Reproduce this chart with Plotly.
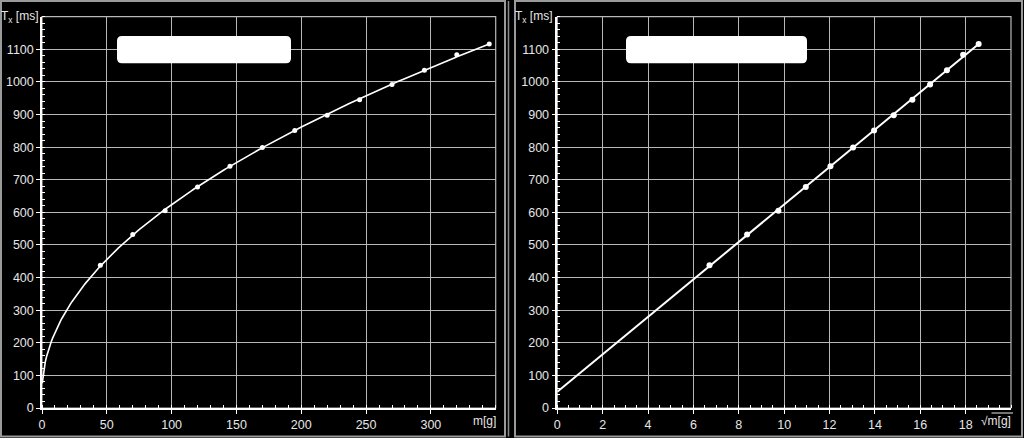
import numpy as np
import plotly.graph_objects as go

# ---- data ----
mass_g = [45, 70, 95, 120, 145, 170, 195, 220, 245, 270, 295, 320, 345]
tx_ms = [438, 532, 605, 678, 741, 799, 851, 898, 945, 992, 1036, 1083, 1116]
fit_intercept = 50.0   # ms
fit_slope = 57.4       # ms / sqrt(g)

x1_ticks = [0, 50, 100, 150, 200, 250, 300]
x2_ticks = [0, 2, 4, 6, 8, 10, 12, 14, 16, 18]
y_ticks = [0, 100, 200, 300, 400, 500, 600, 700, 800, 900, 1000, 1100]

W, H = 1024, 438
sqrt_m = np.sqrt(mass_g)
m_curve = np.linspace(0.2, max(mass_g), 300)
t_curve = fit_intercept + fit_slope * np.sqrt(m_curve)
s_line = np.array([0, sqrt_m.max()])
t_line = fit_intercept + fit_slope * s_line

FONT = "Liberation Sans, Arial, sans-serif"
TXT = "#e6e6e6"
GRID = "#b8b8b8"

fig = go.Figure()
fig.add_trace(go.Scatter(x=m_curve, y=t_curve, mode="lines",
                         line=dict(color="white", width=1.6), xaxis="x", yaxis="y",
                         hoverinfo="skip"))
fig.add_trace(go.Scatter(x=mass_g, y=tx_ms, mode="markers",
                         marker=dict(color="white", size=5), xaxis="x", yaxis="y"))
fig.add_trace(go.Scatter(x=s_line, y=t_line, mode="lines",
                         line=dict(color="white", width=2), xaxis="x2", yaxis="y2",
                         hoverinfo="skip"))
fig.add_trace(go.Scatter(x=sqrt_m, y=tx_ms, mode="markers",
                         marker=dict(color="white", size=6), xaxis="x2", yaxis="y2"))

def px_x(p):
    return p / W

def px_y(p):
    return 1 - p / H

ydom = [px_y(408), px_y(16.7)]
common_axis = dict(
    showline=True, linecolor="white", linewidth=1.5,
    showgrid=True, gridcolor=GRID, gridwidth=1,
    zeroline=False, ticks="outside", ticklen=4, tickcolor="white",
    tickfont=dict(family=FONT, size=12.5, color=TXT),
    automargin=False, fixedrange=True,
)
fig.update_layout(
    xaxis=dict(domain=[px_x(42), px_x(495.7)], range=[0, 350], anchor="y",
               tickvals=x1_ticks,
               minor=dict(dtick=10, tick0=0, ticks="inside", ticklen=3, tickcolor="white", showgrid=False),
               **common_axis),
    yaxis=dict(domain=ydom, range=[0, 1200], anchor="x", tickvals=y_ticks,
               minor=dict(dtick=20, tick0=0, ticks="inside", ticklen=3, tickcolor="white", showgrid=False),
               **common_axis),
    xaxis2=dict(domain=[px_x(557.3), px_x(1011)], range=[0, 20], anchor="y2",
                tickvals=x2_ticks,
                minor=dict(dtick=0.5, tick0=0, ticks="inside", ticklen=3, tickcolor="white", showgrid=False),
                **common_axis),
    yaxis2=dict(domain=ydom, range=[0, 1200], anchor="x2", tickvals=y_ticks,
                minor=dict(dtick=20, tick0=0, ticks="inside", ticklen=3, tickcolor="white", showgrid=False),
                **common_axis),
    width=W, height=H,
    margin=dict(l=0, r=0, t=0, b=0),
    paper_bgcolor="black", plot_bgcolor="black",
    showlegend=False,
)

shapes = []
# outer panel frames
for x0, x1 in [(1, 505), (515, 1022)]:
    shapes.append(dict(type="rect", xref="paper", yref="paper",
                       x0=px_x(x0), x1=px_x(x1), y0=px_y(436.5), y1=px_y(1),
                       line=dict(color="#9a9a9a", width=2), layer="below"))
shapes.append(dict(type="line", xref="paper", yref="paper",
                   x0=px_x(508.5), x1=px_x(508.5), y0=px_y(436.5), y1=px_y(1),
                   line=dict(color="#8a8a8a", width=1.5), layer="below"))
# plot-area borders (top/right in gray)
for ax in ["x", "x2"]:
    yax = "y" if ax == "x" else "y2"
    shapes.append(dict(type="rect", xref=f"{ax} domain", yref=f"{yax} domain",
                       x0=0, x1=1, y0=0, y1=1, line=dict(color=GRID, width=1.2), layer="below"))

# white rounded boxes
def rounded(x0, x1, y0, y1, r=5):
    X0, X1 = px_x(x0), px_x(x1)
    Y0, Y1 = px_y(y1), px_y(y0)  # bottom, top in paper
    rx, ry = r / W, r / H
    return (f"M{X0+rx},{Y0} L{X1-rx},{Y0} Q{X1},{Y0} {X1},{Y0+ry} "
            f"L{X1},{Y1-ry} Q{X1},{Y1} {X1-rx},{Y1} L{X0+rx},{Y1} "
            f"Q{X0},{Y1} {X0},{Y1-ry} L{X0},{Y0+ry} Q{X0},{Y0} {X0+rx},{Y0} Z")

for (bx0, bx1) in [(117, 291), (626, 807)]:
    shapes.append(dict(type="path", xref="paper", yref="paper",
                       path=rounded(bx0, bx1, 36, 63.3),
                       fillcolor="white", line=dict(color="white", width=0)))
# vinculum of the square-root sign in the right axis label
shapes.append(dict(type="line", xref="paper", yref="paper",
                   x0=px_x(991.5), x1=px_x(1013), y0=px_y(413), y1=px_y(413),
                   line=dict(color=TXT, width=1)))
fig.update_layout(shapes=shapes)

ann_font = dict(family=FONT, size=12, color=TXT)
annotations = [
    dict(text="T<sub>x</sub> [ms]", x=px_x(41), y=px_y(17), xref="paper", yref="paper",
         xanchor="right", yanchor="middle", showarrow=False, font=ann_font),
    dict(text="T<sub>x</sub> [ms]", x=px_x(555), y=px_y(17), xref="paper", yref="paper",
         xanchor="right", yanchor="middle", showarrow=False, font=ann_font),
    dict(text="m[g]", x=px_x(498), y=px_y(421), xref="paper", yref="paper",
         xanchor="right", yanchor="middle", showarrow=False, font=ann_font),
    dict(text="√m[g]", x=px_x(1013), y=px_y(421),
         xref="paper", yref="paper",
         xanchor="right", yanchor="middle", showarrow=False, font=ann_font),
]
fig.update_layout(annotations=annotations)

fig.write_html("out.html", config={"displayModeBar": False},
               post_script="document.body.style.margin='0';document.body.style.overflow='hidden';")
